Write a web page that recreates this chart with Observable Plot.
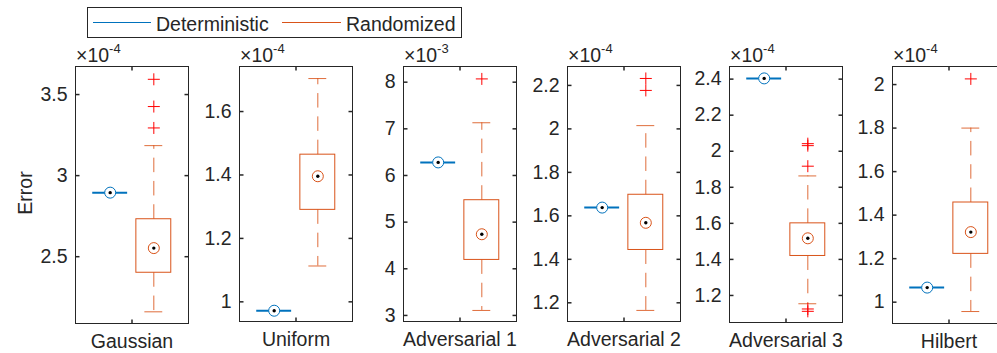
<!DOCTYPE html>
<html><head><meta charset="utf-8">
<script src="https://cdn.jsdelivr.net/npm/d3@7"></script>
<script src="https://cdn.jsdelivr.net/npm/@observablehq/plot@0.6"></script>
<style>
body{margin:0;background:#fff;}
#chart{position:relative;width:997px;height:353px;overflow:hidden;font-family:"Liberation Sans",Arial,Helvetica,sans-serif;color:#262626;background:#fff;}
.abs{position:absolute;white-space:nowrap;line-height:1;font-size:19.5px;}
</style></head><body><div id="chart"></div>
<script>
// ---- data (values in units of 10^exponent) ----
const categories = ["Gaussian", "Uniform", "Adversarial 1", "Adversarial 2", "Adversarial 3", "Hilbert"];
const exponents = [-4, -4, -3, -4, -4, -4];
const seriesNames = ["Deterministic", "Randomized"];
const detValues = [2.895, 0.972, 6.28, 1.638, 2.404, 1.067];
const randLowerWhisker = [2.16, 1.113, 3.107, 1.165, 1.154, 0.957];
const randQ1 = [2.401, 1.29, 4.19, 1.443, 1.419, 1.222];
const randMedian = [2.553, 1.396, 4.74, 1.568, 1.517, 1.322];
const randQ3 = [2.731, 1.464, 5.47, 1.697, 1.6, 1.458];
const randUpperWhisker = [3.185, 1.704, 7.13, 2.015, 1.863, 1.8];
const randOutliers = [[3.294, 3.426, 3.594], [], [8.07], [2.177, 2.232], [1.112, 1.125, 1.917, 2.031, 2.042], [2.026]];
const yDomains = [[2.088, 3.673], [0.938, 1.742], [2.87, 8.336], [1.114, 2.287], [1.05, 2.47], [0.902, 2.083]];
const yTicks = [[2.5, 3, 3.5], [1, 1.2, 1.4, 1.6], [3, 4, 5, 6, 7, 8], [1.2, 1.4, 1.6, 1.8, 2, 2.2], [1.2, 1.4, 1.6, 1.8, 2, 2.2, 2.4], [1, 1.2, 1.4, 1.6, 1.8, 2]];

// ---- layout / style ----
const BLUE = "#0072BD", ORANGE = "#D95319", RED = "#FF0000", INK = "#262626";
const FONT = '"Liberation Sans", Arial, Helvetica, sans-serif';
const panelLeft = [75, 239, 403, 567, 729, 892];
const panelBottom = [323, 321, 321, 321, 322, 323];
const panelWidth = 113, frameTop = 66, mL = 60, mR = 5, H = 353;
const xDomain = [0.205, 2.795];
const chart = document.getElementById("chart");

const sym = (f) => ({draw(ctx, size) { const r = Math.sqrt(size / Math.PI); f(ctx, r); }});
const plusSym = sym((c, r) => { c.moveTo(-r, 0); c.lineTo(r, 0); c.moveTo(0, -r); c.lineTo(0, r); });
const tickRight = sym((c, r) => { c.moveTo(0, 0); c.lineTo(r, 0); });
const tickLeft = sym((c, r) => { c.moveTo(0, 0); c.lineTo(-r, 0); });
const tickDown = sym((c, r) => { c.moveTo(0, 0); c.lineTo(0, r); });
const tickUp = sym((c, r) => { c.moveTo(0, 0); c.lineTo(0, -r); });

categories.forEach((cat, i) => {
  const rand = [{x: 2, lo: randLowerWhisker[i], q1: randQ1[i], med: randMedian[i], q3: randQ3[i], hi: randUpperWhisker[i]}];
  const det = [{x: 1, v: detValues[i]}];
  const outs = randOutliers[i].map(v => ({x: 2, v}));
  const yd = yDomains[i];
  const tk = yTicks[i];
  const whisk = {stroke: ORANGE, strokeOpacity: 0.85, strokeWidth: 1};
  const svg = Plot.plot({
    width: mL + panelWidth + mR, height: H,
    marginTop: frameTop, marginBottom: H - panelBottom[i], marginLeft: mL, marginRight: mR,
    x: {domain: xDomain, axis: null},
    y: {domain: yd, axis: null},
    style: {fontFamily: FONT, fontSize: "19.5px", color: INK, background: "none", overflow: "visible"},
    marks: [
      Plot.ruleX(rand, {x: "x", y1: "q3", y2: "hi", strokeDasharray: "14.5,8.8", ...whisk}),
      Plot.ruleX(rand, {x: "x", y1: "q1", y2: "lo", strokeDasharray: "14.5,8.8", ...whisk}),
      Plot.ruleY(rand, {y: "hi", x1: d => d.x - 0.205, x2: d => d.x + 0.205, ...whisk}),
      Plot.ruleY(rand, {y: "lo", x1: d => d.x - 0.205, x2: d => d.x + 0.205, ...whisk}),
      Plot.rect(rand, {x1: d => d.x - 0.4, x2: d => d.x + 0.4, y1: "q1", y2: "q3", fill: "none", stroke: ORANGE, strokeWidth: 1}),
      Plot.dot(outs, {x: "x", y: "v", symbol: plusSym, r: 6, stroke: RED, fill: "none", strokeWidth: 1}),
      Plot.ruleY(det, {y: "v", x1: d => d.x - 0.4, x2: d => d.x + 0.4, stroke: BLUE, strokeWidth: 2}),
      Plot.dot(det, {x: "x", y: "v", r: 5.5, stroke: BLUE, fill: "white", strokeWidth: 1}),
      Plot.dot(det, {x: "x", y: "v", r: 1.7, fill: "black"}),
      Plot.dot(rand, {x: "x", y: "med", r: 5.5, stroke: ORANGE, fill: "white", strokeWidth: 1}),
      Plot.dot(rand, {x: "x", y: "med", r: 1.7, fill: "black"}),
      Plot.frame({stroke: INK, strokeWidth: 1}),
      Plot.dot(tk.map(v => ({x: xDomain[0], v})), {x: "x", y: "v", symbol: tickRight, r: 4, stroke: INK, fill: "none"}),
      Plot.dot(tk.map(v => ({x: xDomain[1], v})), {x: "x", y: "v", symbol: tickLeft, r: 4, stroke: INK, fill: "none"}),
      Plot.dot([{x: 1.5, v: yd[1]}], {x: "x", y: "v", symbol: tickDown, r: 4, stroke: INK, fill: "none"}),
      Plot.dot([{x: 1.5, v: yd[0]}], {x: "x", y: "v", symbol: tickUp, r: 4, stroke: INK, fill: "none"}),
      Plot.axisY(tk, {tickSize: 0, tickPadding: 8, tickFormat: d => String(d), fontSize: 19.5, fill: INK, label: null}),
      Plot.axisX([1.5], {tickSize: 0, tickPadding: 11, tickFormat: () => cat, fontSize: 19.5, fill: INK, label: null})
    ]
  });
  svg.style.position = "absolute";
  svg.style.left = (panelLeft[i] - mL) + "px";
  svg.style.top = "0px";
  chart.appendChild(svg);

  const ex = document.createElement("div");
  ex.className = "abs";
  ex.style.left = (panelLeft[i] + 1) + "px";
  ex.style.top = "45.5px";
  ex.innerHTML = `×10<span style="font-size:13px;position:relative;top:-9px">${exponents[i]}</span>`;
  chart.appendChild(ex);
});

// y label
const yl = document.createElement("div");
yl.className = "abs";
yl.style.left = "25.5px"; yl.style.top = "193px";
yl.style.transform = "translate(-50%,-50%) rotate(-90deg)";
yl.textContent = "Error";
chart.appendChild(yl);

// legend
const lg = document.createElement("div");
lg.style.cssText = "position:absolute;left:87px;top:7px;width:375px;height:31px;box-sizing:border-box;border:1px solid #262626;background:#fff;";
chart.appendChild(lg);
[[BLUE, 93, 58, 156], [ORANGE, 282, 59, 346]].forEach(([c, lx, lw, tx], k) => {
  const ln = document.createElement("div");
  ln.style.cssText = `position:absolute;left:${lx}px;top:22px;width:${lw}px;height:1px;background:${c};`;
  chart.appendChild(ln);
  const t = document.createElement("div");
  t.className = "abs";
  t.style.left = tx + "px"; t.style.top = "15px";
  t.textContent = seriesNames[k];
  chart.appendChild(t);
});
</script></body></html>
